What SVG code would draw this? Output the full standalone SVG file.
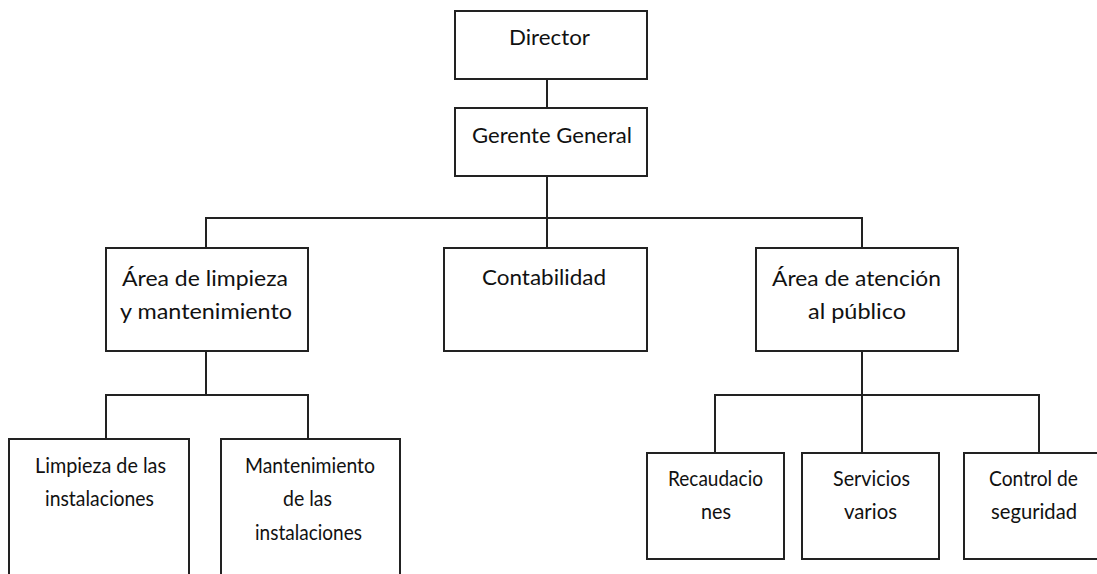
<svg xmlns="http://www.w3.org/2000/svg" width="1097" height="574" viewBox="0 0 1097 574">
<style>
.box{fill:#fff;stroke:#222;stroke-width:2}
.ln{fill:none;stroke:#222;stroke-width:2}
.t{font-family:Lato,"Liberation Sans",sans-serif;font-size:22px;fill:#111;text-anchor:middle}
.s{font-family:Lato,"Liberation Sans",sans-serif;font-size:20.5px;fill:#111;text-anchor:middle}
</style>
<rect width="1097" height="574" fill="#fff"/>
<g id="connectors">
<path class="ln" d="M547 79V108"/>
<path class="ln" d="M547 176V248"/>
<path class="ln" d="M206 248V218H862V248"/>
<path class="ln" d="M206 351V395"/>
<path class="ln" d="M106 439V395H308V439"/>
<path class="ln" d="M862 351V453"/>
<path class="ln" d="M715 453V395H1039V453"/>
</g>
<g id="director">
<rect class="box" x="455" y="11" width="192" height="68"/>
<text class="t" x="549.5" y="45" textLength="81" lengthAdjust="spacingAndGlyphs">Director</text>
</g>
<g id="gerente">
<rect class="box" x="455" y="108" width="192" height="68"/>
<text class="t" x="552" y="143" textLength="160" lengthAdjust="spacingAndGlyphs">Gerente General</text>
</g>
<g id="limpieza-mant">
<rect class="box" x="106" y="248" width="202" height="103"/>
<text class="t" x="205" y="286" textLength="166" lengthAdjust="spacingAndGlyphs">Área de limpieza</text>
<text class="t" x="206" y="319" textLength="172" lengthAdjust="spacingAndGlyphs">y mantenimiento</text>
</g>
<g id="contabilidad">
<rect class="box" x="444" y="248" width="203" height="103"/>
<text class="t" x="544" y="285" textLength="124" lengthAdjust="spacingAndGlyphs">Contabilidad</text>
</g>
<g id="atencion">
<rect class="box" x="756" y="248" width="202" height="103"/>
<text class="t" x="856.5" y="286" textLength="169" lengthAdjust="spacingAndGlyphs">Área de atención</text>
<text class="t" x="857" y="319" textLength="98" lengthAdjust="spacingAndGlyphs">al público</text>
</g>
<g id="limpieza-inst">
<rect class="box" x="9" y="439" width="180" height="150"/>
<text class="s" x="100.5" y="473" textLength="131" lengthAdjust="spacingAndGlyphs">Limpieza de las</text>
<text class="s" x="99.5" y="506" textLength="109" lengthAdjust="spacingAndGlyphs">instalaciones</text>
</g>
<g id="mant-inst">
<rect class="box" x="221" y="439" width="179" height="150"/>
<text class="s" x="310" y="473" textLength="130" lengthAdjust="spacingAndGlyphs">Mantenimiento</text>
<text class="s" x="307.5" y="506" textLength="49" lengthAdjust="spacingAndGlyphs">de las</text>
<text class="s" x="308.5" y="540" textLength="107" lengthAdjust="spacingAndGlyphs">instalaciones</text>
</g>
<g id="recaudaciones">
<rect class="box" x="647" y="453" width="137" height="106"/>
<text class="s" x="715.5" y="486" textLength="95" lengthAdjust="spacingAndGlyphs">Recaudacio</text>
<text class="s" x="716" y="519" textLength="30" lengthAdjust="spacingAndGlyphs">nes</text>
</g>
<g id="servicios">
<rect class="box" x="802" y="453" width="137" height="106"/>
<text class="s" x="871.5" y="486" textLength="77" lengthAdjust="spacingAndGlyphs">Servicios</text>
<text class="s" x="870.5" y="519" textLength="53" lengthAdjust="spacingAndGlyphs">varios</text>
</g>
<g id="control">
<rect class="box" x="964" y="453" width="140" height="106"/>
<text class="s" x="1033.5" y="486" textLength="89" lengthAdjust="spacingAndGlyphs">Control de</text>
<text class="s" x="1034" y="519" textLength="86" lengthAdjust="spacingAndGlyphs">seguridad</text>
</g>
</svg>
